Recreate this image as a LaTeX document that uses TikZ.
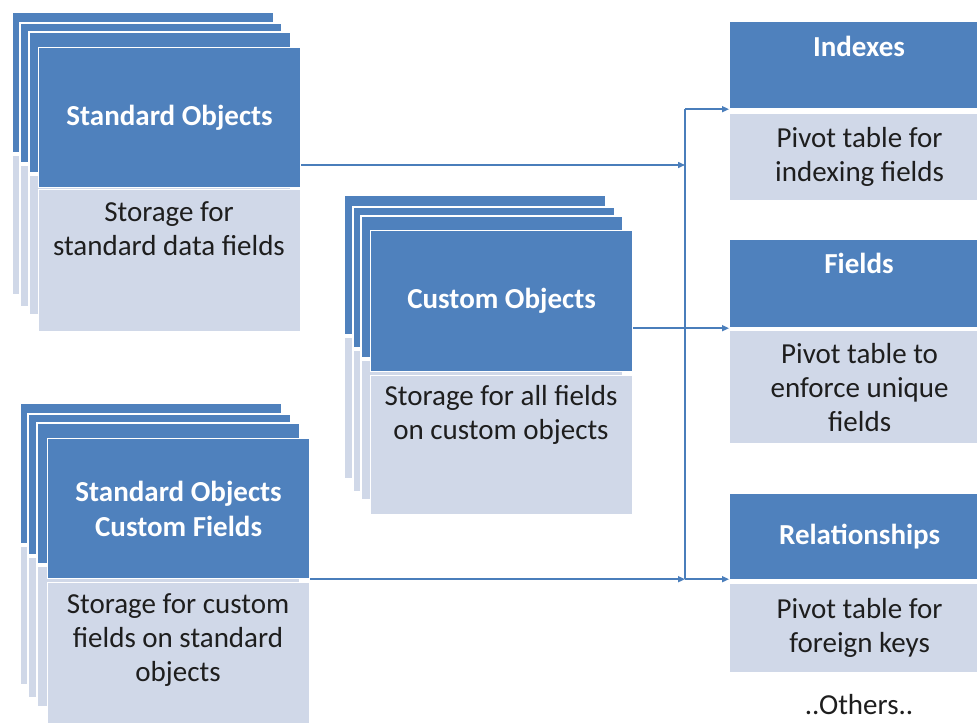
\documentclass[tikz,border=0pt]{standalone}
\usepackage{fontspec}
\setmainfont{Carlito}
\usetikzlibrary{arrows.meta,calc}
\definecolor{hblue}{RGB}{79,129,189}
\definecolor{lblue}{RGB}{208,216,232}
\definecolor{lineblue}{RGB}{74,126,187}
\definecolor{txt}{RGB}{30,30,30}
\tikzset{
 hdr/.style={fill=hblue, draw=white, line width=1.2pt, inner sep=0pt, anchor=north west,
   text=white, font=\fontsize{29}{35}\selectfont\bfseries, align=center},
 low/.style={fill=lblue, draw=white, line width=1.2pt, inner sep=0pt, anchor=north west},
 htext/.style={text=white, font=\fontsize{29}{35}\selectfont\bfseries, align=center, inner sep=0pt},
 ltext/.style={text=txt, font=\fontsize{29}{34}\selectfont, align=center, inner sep=0pt},
 conn/.style={draw=lineblue, line width=1.5pt},
 arr/.style={conn, -{Triangle[length=7pt,width=6pt]}},
}
\newcommand\backcard[5]{%
 \filldraw[fill=hblue, draw=white, line width=1.2pt] (#1,#2) rectangle ++(#3,#4);
 \filldraw[fill=lblue, draw=white, line width=1.2pt] (#1,#2+#4+2) rectangle ++(#3,#5);}
\begin{document}
\begin{tikzpicture}[x=1pt,y=-1pt]
\clip (0,0) rectangle (977,723);
\fill[white] (0,0) rectangle (977,723);
% Standard Objects stack
\backcard{12}{12}{262}{141}{140}
\backcard{20}{23}{262}{140}{142}
\backcard{29}{32}{262}{141}{140}
\node[hdr, minimum width=262pt, minimum height=140pt] (soH) at (38,47) {Standard Objects};
\node[low, minimum width=262pt, minimum height=142pt] (soL) at (38,189) {};
\node[ltext] (soT) at (169,229) {Storage for\\standard data fields};
% Custom Objects stack
\backcard{344}{195}{262}{140}{142}
\backcard{353}{207}{262}{141}{142}
\backcard{361}{216}{262}{142}{140}
\node[hdr, minimum width=262pt, minimum height=141pt] (coH) at (370,230) {Custom Objects};
\node[low, minimum width=262pt, minimum height=139pt] (coL) at (370,375) {};
\node[ltext] (coT) at (501,415) {Storage for all fields\\on custom objects};
% Standard Objects Custom Fields stack
\backcard{20}{403}{262}{141}{139}
\backcard{28}{414}{263}{141}{141}
\backcard{37}{423}{263}{141}{141}
\node[hdr, minimum width=262pt, minimum height=140pt] (scH) at (47,438) {Standard Objects\\Custom Fields};
\node[low, minimum width=262pt, minimum height=141pt] (scL) at (47,582) {};
\node[ltext] (scT) at (178,640) {Storage for custom\\fields on standard\\objects};
% Right boxes
\node[hdr, minimum width=260pt, minimum height=87pt] (iH) at (729,21) {};
\node[htext] (iHt) at (859,46) {Indexes};
\node[low, minimum width=260pt, minimum height=87pt] (iL) at (729,113) {};
\node[ltext] (iT) at (iL.center) {Pivot table for\\indexing fields};
\node[hdr, minimum width=260pt, minimum height=88pt] (fH) at (729,239) {};
\node[htext] (fHt) at (859,263) {Fields};
\node[low, minimum width=260pt, minimum height=113pt] (fL) at (729,330) {};
\node[ltext] (fT) at (fL.center) {Pivot table to\\enforce unique\\fields};
\node[hdr, minimum width=260pt, minimum height=86pt] (rH) at (729,493) {Relationships};
\node[low, minimum width=260pt, minimum height=89pt] (rL) at (729,583) {};
\node[ltext] (rT) at (rL.center) {Pivot table for\\foreign keys};
\node[ltext] (oth) at (859,705) {..Others..};
% Connectors
\coordinate (j1) at (685,165);
\draw[arr] (soH.east |- j1) -- (j1);
\draw[conn] (j1 |- iH.south west) -- (j1 |- scH.south east);
\draw[arr] (j1 |- iH.south west) -- (iH.south west);
\draw[arr] (coH.east |- fH.south west) -- (fH.south west);
\draw[arr] (scH.south east) -- (j1 |- scH.south east);
\draw[arr] (j1 |- scH.south east) -- (rH.south west |- scH.south east);
\end{tikzpicture}
\end{document}
